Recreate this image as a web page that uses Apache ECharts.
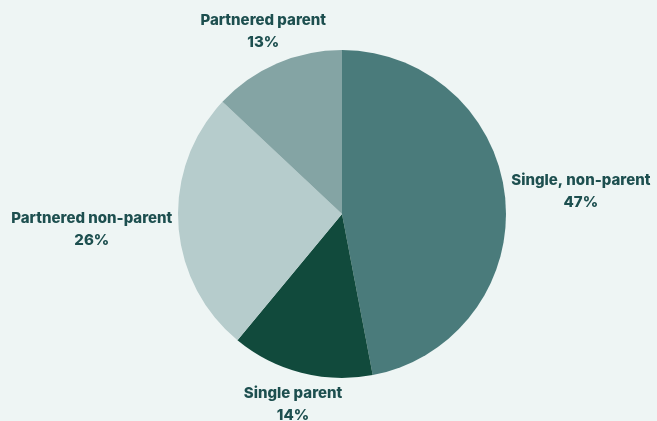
<!DOCTYPE html>
<html>
<head>
<meta charset="utf-8">
<script src="https://cdn.jsdelivr.net/npm/echarts@6/dist/echarts.min.js"></script>
<style>
html,body{margin:0;padding:0;background:#eef5f4;}
#chart{width:657px;height:421px;}
</style>
</head>
<body>
<div id="chart"></div>
<script>
const categories = ['Single, non-parent', 'Single parent', 'Partnered non-parent', 'Partnered parent'];
const values = [47, 14, 26, 13];
const colors = ['#4a7b7b', '#114a3c', '#b6cccc', '#84a4a4'];

const chart = echarts.init(document.getElementById('chart'), null, {renderer: 'canvas'});
const CX = 342, CY = 214, R = 164;
const total = values.reduce((a, b) => a + b, 0);
const midAngles = [];
let acc = 0;
values.forEach(v => { midAngles.push((acc + v / 2) / total * 2 * Math.PI); acc += v; });

chart.setOption({
  backgroundColor: '#eef5f4',
  animation: false,
  series: [{
    type: 'pie',
    center: [CX, CY],
    radius: [0, R],
    startAngle: 90,
    clockwise: true,
    data: categories.map((c, i) => ({name: c, value: values[i], itemStyle: {color: colors[i]}})),
    label: {
      show: true,
      position: 'outside',
      formatter: '{b}\n{c}%',
      color: '#1d4f4f',
      fontFamily: 'Inter',
      fontWeight: 800,
      fontSize: 15,
      lineHeight: 22,
      align: 'center',
      overflow: 'none'
    },
    labelLine: {show: false, length: 5, length2: 5},
    labelLayout: function (p) {
      const a = midAngles[p.dataIndex];
      const s = Math.sin(a), c = Math.cos(a);
      const w = p.labelRect.width, h = p.labelRect.height;
      const bw = Math.abs(s) > 1e-6 ? (w / 2) / Math.abs(s) : Infinity;
      const bh = Math.abs(c) > 1e-6 ? (h / 2 + 4) / Math.abs(c) : Infinity;
      const d = R + 6 + Math.min(bw, bh);
      return {
        x: CX + d * s,
        y: CY - d * c,
        align: 'center',
        verticalAlign: 'middle'
      };
    }
  }]
});
</script>
</body>
</html>
